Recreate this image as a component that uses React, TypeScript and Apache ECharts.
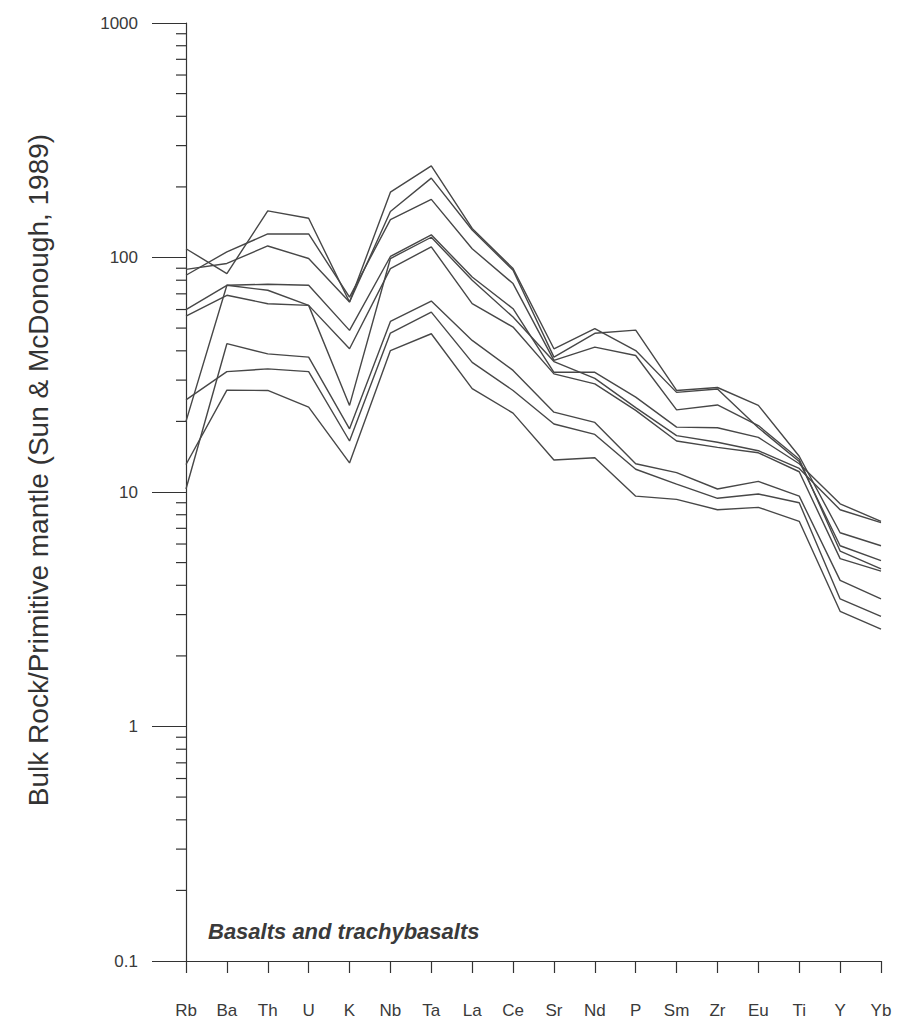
import React, { useEffect, useRef } from "react";
import * as echarts from "echarts";

const categories = ["Rb", "Ba", "Th", "U", "K", "Nb", "Ta", "La", "Ce", "Sr", "Nd", "P", "Sm", "Zr", "Eu", "Ti", "Y", "Yb"];

const sampleA = [109, 85.4, 158, 147, 64.6, 190, 246, 133, 89.7, 40.8, 49.7, 40.1, 26.6, 27.5, 18.8, 13.5, 5.9, 5.1];
const sampleB = [89, 94.3, 112, 99, 64.6, 157, 218, 131, 88.2, 37.6, 47.5, 49, 27.1, 27.9, 23.4, 14.2, 6.7, 5.9];
const sampleC = [84, 105.7, 126, 126, 67.8, 145, 177, 109, 77.4, 36.4, 41.5, 38.2, 22.4, 23.5, 19.2, 13.8, 5.6, 4.7];
const sampleD = [60, 76.1, 76.9, 76.1, 48.9, 101, 125, 82.6, 60.5, 32.4, 32.4, 25.4, 18.9, 18.8, 17.1, 13.2, 8.9, 7.5];
const sampleE = [56.3, 69, 63.5, 62.5, 40.8, 89.7, 111, 63.6, 50.5, 31.9, 28.9, 22.3, 16.5, 15.5, 14.7, 12.2, 5.2, 4.6];
const sampleF = [24.7, 32.6, 33.5, 32.6, 16.5, 47.6, 58.5, 35.7, 27.1, 19.5, 17.6, 12.5, 10.8, 9.4, 9.8, 9.0, 3.5, 2.95];
const sampleG = [20, 76.1, 72.5, 62.5, 23.4, 99, 122, 80, 55.7, 36, 30.5, 22.9, 17.4, 16.3, 15.0, 12.6, 8.4, 7.4];
const sampleH = [13.1, 27.2, 27.1, 23, 13.3, 40.1, 47.3, 27.6, 21.7, 13.7, 14, 9.6, 9.3, 8.4, 8.6, 7.5, 3.1, 2.6];
const sampleI = [10.3, 42.9, 38.8, 37.6, 18.6, 53.4, 65.2, 44.3, 33, 21.9, 19.8, 13.2, 12.1, 10.3, 11.1, 9.6, 4.2, 3.5];

const samples = [sampleA, sampleB, sampleC, sampleD, sampleE, sampleF, sampleG, sampleH, sampleI];

const decades = [0.1, 1, 10, 100];
const minorMultipliers = [2, 3, 4, 5, 6, 7, 8, 9];

const yAxisTitle = "Bulk Rock/Primitive mantle (Sun & McDonough, 1989)";
const panelLabel = "Basalts and trachybasalts";

export default function App() {
  const ref = useRef<HTMLDivElement>(null);

  useEffect(() => {
    if (!ref.current) return;
    const chart = echarts.init(ref.current, null, { renderer: "svg" });
    const minorTicks: number[][] = [];
    decades.forEach((d) => minorMultipliers.forEach((m) => minorTicks.push([0, +(d * m).toPrecision(3)])));

    const lineColor = "#474747";
    const option: any = {
      animation: false,
      backgroundColor: "#ffffff",
      grid: { left: 186, right: 16, top: 23, bottom: 66, containLabel: false },
      xAxis: {
        type: "category",
        data: categories,
        boundaryGap: false,
        axisLine: { show: true, lineStyle: { color: "#333", width: 1.2 } },
        axisTick: { show: true, length: 12, lineStyle: { color: "#333", width: 1.2 } },
        axisLabel: {
          margin: 41,
          color: "#3a3a3a",
          fontSize: 17,
          fontFamily: "Liberation Sans, Arial, sans-serif",
          interval: 0,
        },
        splitLine: { show: false },
      },
      yAxis: {
        type: "log",
        logBase: 10,
        min: 0.1,
        max: 1000,
        axisLine: { show: true, onZero: false, lineStyle: { color: "#333", width: 1.2 } },
        axisTick: { show: true, length: 34, lineStyle: { color: "#333", width: 1.2 } },
        axisLabel: {
          margin: 48,
          color: "#3a3a3a",
          fontSize: 17,
          fontFamily: "Liberation Sans, Arial, sans-serif",
          formatter: (v: number) => String(+v.toPrecision(3)),
        },
        splitLine: { show: false },
        minorTick: { show: false },
      },
      graphic: [
        {
          type: "text",
          x: 38,
          y: 470,
          rotation: Math.PI / 2,
          style: {
            text: yAxisTitle,
            textAlign: "center",
            textVerticalAlign: "middle",
            font: "28px 'Liberation Sans', Arial, sans-serif",
            fill: "#333",
          },
        },
        {
          type: "text",
          left: 208,
          top: 920,
          style: {
            text: panelLabel,
            font: "italic bold 22px 'Liberation Sans', Arial, sans-serif",
            fill: "#3a3a3a",
          },
        },
      ],
      series: [
        ...samples.map((s, idx) => ({
          name: "s" + idx,
          type: "line",
          data: s,
          symbol: "none",
          lineStyle: { color: lineColor, width: 1.4 },
          silent: true,
        })),
        {
          type: "custom",
          data: minorTicks,
          silent: true,
          clip: false,
          renderItem: (params: any, api: any) => {
            const p = api.coord([api.value(0), api.value(1)]);
            return {
              type: "line",
              shape: { x1: p[0] - 10, y1: p[1], x2: p[0], y2: p[1] },
              style: { stroke: "#333", lineWidth: 1.2 },
            };
          },
        },
      ],
    };
    chart.setOption(option);
    return () => chart.dispose();
  }, []);

  return <div ref={ref} style={{ position: "absolute", left: 0, top: 0, width: 897, height: 1027 }} />;
}
